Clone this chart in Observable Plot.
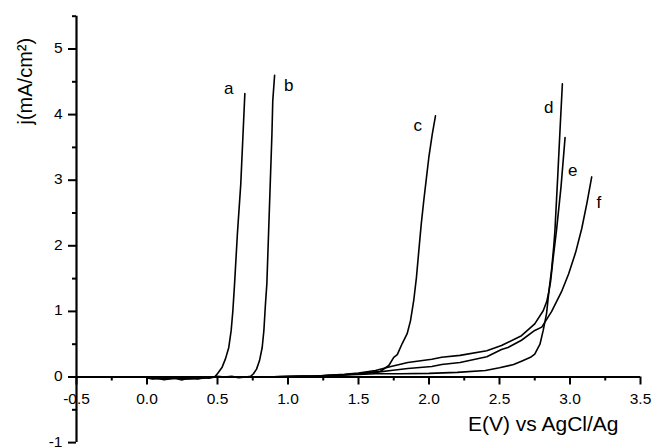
<!DOCTYPE html>
<html><head><meta charset="utf-8">
<script src="https://cdn.jsdelivr.net/npm/d3@7"></script>
<script src="https://cdn.jsdelivr.net/npm/@observablehq/plot@0.6"></script>
<style>
body{margin:0;background:#fff}
svg{font-family:"Liberation Sans",Arial,sans-serif}
</style>
</head><body><div id="chart"></div>
<script>
// ---- data (E in V vs AgCl/Ag, j in mA/cm2) ----
const curveNames = ["a","b","c","d","e","f"];

const aE = [0.00,0.04,0.08,0.12,0.16,0.20,0.24,0.28,0.32,0.36,0.40,0.44,0.48,0.502,0.533,0.557,0.580,0.597,0.609,0.621,0.641,0.665,0.681,0.694];
const aJ = [-0.01,-0.03,-0.02,-0.04,-0.03,-0.02,-0.04,-0.03,-0.02,-0.03,-0.01,-0.02,0.00,0.058,0.15,0.28,0.45,0.71,1.01,1.42,2.18,2.94,3.70,4.32];

const bE = [0.00,0.10,0.20,0.30,0.40,0.50,0.55,0.60,0.65,0.70,0.735,0.755,0.777,0.798,0.817,0.829,0.840,0.850,0.862,0.874,0.886,0.892,0.905];
const bJ = [-0.02,-0.03,-0.02,-0.03,-0.02,0.01,0.00,0.01,-0.01,0.00,0.01,0.05,0.12,0.25,0.45,0.71,1.11,1.42,2.18,2.94,3.70,4.21,4.60];

const cE = [0.00,0.50,0.80,1.00,1.20,1.40,1.50,1.60,1.656,1.715,1.750,1.775,1.810,1.845,1.869,1.892,1.911,1.928,1.945,1.963,1.982,1.999,2.023,2.046];
const cJ = [-0.01,0.00,0.00,0.005,0.015,0.035,0.05,0.075,0.088,0.175,0.30,0.34,0.51,0.66,0.86,1.17,1.52,1.93,2.33,2.69,3.04,3.35,3.70,3.98];

const dE = [0.00,0.50,0.80,1.00,1.20,1.40,1.50,1.62,1.80,2.00,2.20,2.40,2.50,2.60,2.656,2.72,2.75,2.787,2.81,2.834,2.85,2.87,2.885,2.893,2.914,2.930,2.946];
const dJ = [-0.01,0.00,0.00,0.005,0.015,0.03,0.04,0.05,0.05,0.055,0.07,0.10,0.14,0.19,0.24,0.30,0.35,0.50,0.71,0.97,1.30,1.65,2.00,2.23,3.10,3.80,4.47];

const eE = [0.00,0.50,0.80,1.00,1.20,1.40,1.50,1.62,1.73,1.85,2.02,2.09,2.22,2.41,2.514,2.656,2.75,2.81,2.835,2.85,2.862,2.88,2.904,2.936,2.965];
const eJ = [-0.01,0.00,0.00,0.005,0.015,0.04,0.06,0.10,0.16,0.22,0.27,0.30,0.33,0.40,0.48,0.63,0.81,1.01,1.15,1.30,1.45,1.80,2.23,2.89,3.65];

const fE = [0.00,0.50,0.80,1.00,1.20,1.40,1.50,1.62,1.73,1.85,2.02,2.09,2.22,2.41,2.514,2.56,2.656,2.75,2.80,2.87,2.94,2.99,3.04,3.083,3.12,3.154];
const fJ = [-0.01,0.00,0.00,0.005,0.015,0.035,0.05,0.07,0.10,0.13,0.16,0.19,0.22,0.31,0.42,0.45,0.56,0.71,0.76,1.00,1.30,1.57,1.90,2.26,2.65,3.05];

const labelE = [0.58, 1.005, 1.92, 2.85, 3.02, 3.205];
const labelJ = [4.39, 4.44, 3.83, 4.11, 3.15, 2.66];

const xMajor = [-0.5,0.0,0.5,1.0,1.5,2.0,2.5,3.0,3.5];
const xMinor = [-0.25,0.25,0.75,1.25,1.75,2.25,2.75,3.25];
const yMajor = [-1,0,1,2,3,4,5];
const yMinor = [-0.5,0.5,1.5,2.5,3.5,4.5,5.5];

const xTitle = "E(V) vs AgCl/Ag";
const yTitle = "j(mA/cm²)";

// ---- build table ----
const series = {a:[aE,aJ], b:[bE,bJ], c:[cE,cJ], d:[dE,dJ], e:[eE,eJ], f:[fE,fJ]};
const rows = [];
for (const k of curveNames) {
  const [E, J] = series[k];
  E.forEach((v, i) => rows.push({curve: k, E: v, j: J[i]}));
}
const labels = curveNames.map((k, i) => ({curve: k, E: labelE[i], j: labelJ[i]}));

// ---- layout ----
const W = 653, H = 448;
const mL = 76, mR = 13, mT = 15.7, mB = 5.9;
const xDom = [-0.5, 3.5], yDom = [-1, 5.5];
const pxPerY = (H - mT - mB) / (yDom[1] - yDom[0]);
const pxPerX = (W - mL - mR) / (xDom[1] - xDom[0]);
const majLen = 8, minLen = 4;

const xTickRows = [
  ...xMajor.map(v => ({v, a: 0, b: -majLen / pxPerY})),
  ...xMinor.map(v => ({v, a: 0, b: -minLen / pxPerY}))
];
const yTickRows = [
  ...yMajor.map(v => ({v, a: xDom[0], b: xDom[0] - majLen / pxPerX})),
  ...yMinor.map(v => ({v, a: xDom[0], b: xDom[0] - minLen / pxPerX}))
];
const axisX = [{v: 0, a: xDom[0], b: xDom[1]}];
const axisY = [{v: xDom[0], a: yDom[0], b: yDom[1]}];

const chart = Plot.plot({
  width: W, height: H,
  marginLeft: mL, marginRight: mR, marginTop: mT, marginBottom: mB,
  x: {domain: xDom, axis: null},
  y: {domain: yDom, axis: null},
  style: {fontFamily: '"Liberation Sans", Arial, sans-serif', background: "#fff", color: "#000"},
  marks: [
    // curves
    Plot.line(rows, {x: "E", y: "j", z: "curve", stroke: "#000", strokeWidth: 1.6}),
    // axis lines
    Plot.ruleY(axisX, {y: "v", x1: "a", x2: "b", stroke: "#000", strokeWidth: 2.2}),
    Plot.ruleX(axisY, {x: "v", y1: "a", y2: "b", stroke: "#000", strokeWidth: 2.2}),
    // ticks
    Plot.ruleX(xTickRows, {x: "v", y1: "a", y2: "b", stroke: "#000", strokeWidth: 2}),
    Plot.ruleY(yTickRows, {y: "v", x1: "a", x2: "b", stroke: "#000", strokeWidth: 2}),
    // tick labels
    Plot.text(xMajor, {x: d => d, y: 0, dy: 22, text: d => d.toFixed(1), fontSize: 15.5, fill: "#000"}),
    Plot.text(yMajor, {x: xDom[0], y: d => d, dx: -14, dy: -1, textAnchor: "end", text: d => String(d), fontSize: 15.5, fill: "#000"}),
    // axis titles
    Plot.text([xTitle], {frameAnchor: "bottom-right", dx: -22, dy: -18, textAnchor: "end", lineAnchor: "middle", text: d => d, fontSize: 21, fill: "#000"}),
    Plot.text([yTitle], {frameAnchor: "top-left", dx: -51, dy: 65, rotate: -90, textAnchor: "middle", lineAnchor: "middle", text: d => d, fontSize: 20, fill: "#000"}),
    // curve labels
    Plot.text(labels, {x: "E", y: "j", text: "curve", fontSize: 17, fill: "#000"})
  ]
});
document.getElementById("chart").appendChild(chart);
</script>
</body></html>
